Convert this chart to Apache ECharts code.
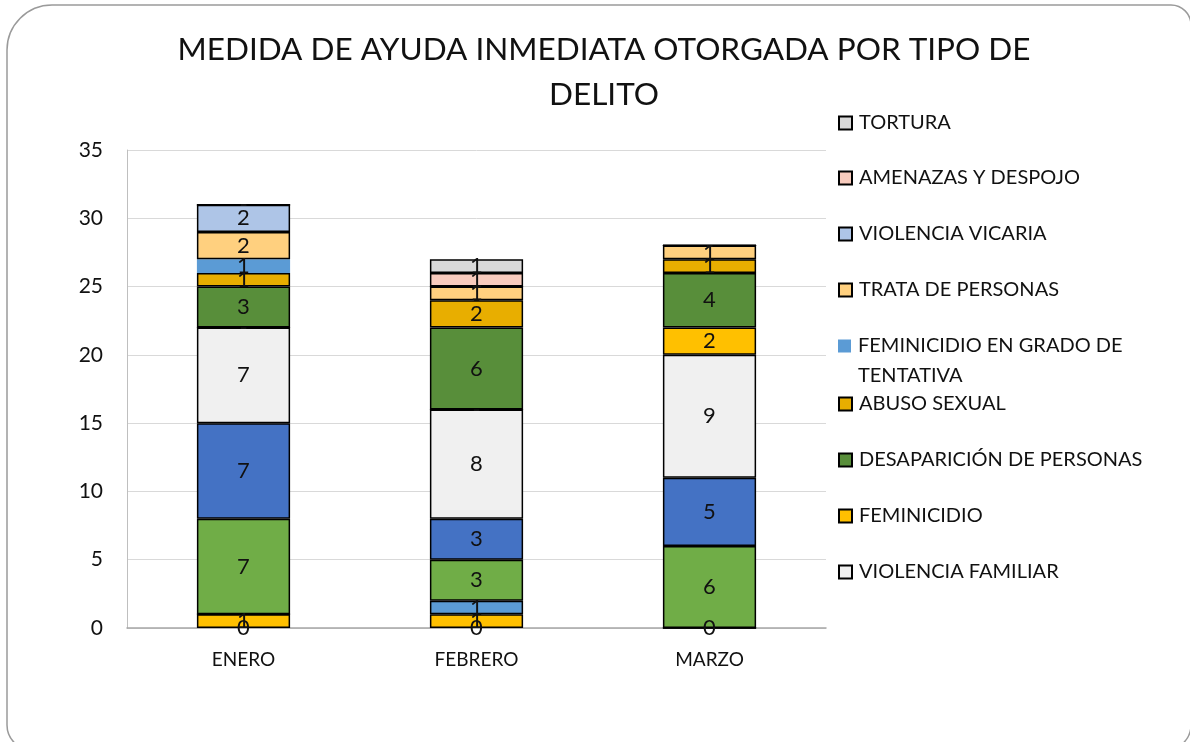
<!DOCTYPE html>
<html>
<head>
<meta charset="utf-8">
<title>Medida de ayuda inmediata</title>
<script src="https://cdn.jsdelivr.net/npm/echarts@6/dist/echarts.min.js"></script>
<style>
  html, body { margin: 0; padding: 0; background: #fff; }
  #chartContainer { width: 1190px; height: 742px; }
</style>
</head>
<body>
<div id="chartContainer"></div>
<script>
// meses (eje x)
const meses = ['ENERO', 'FEBRERO', 'MARZO'];
const yTicks = [0, 5, 10, 15, 20, 25, 30, 35];

// series ocultas en la leyenda (de abajo hacia arriba)
const serieBase = [0, 0, 0];
const serieAmarilla = [1, 1, 0];
const serieAzulClaro = [0, 1, 0];
const serieVerde = [7, 3, 6];
const serieAzul = [7, 3, 5];

// series visibles en la leyenda
const violenciaFamiliar = [7, 8, 9];
const feminicidio = [0, 0, 2];
const desaparicion = [3, 6, 4];
const abusoSexual = [1, 2, 1];
const feminicidioTentativa = [1, 0, 0];
const trataPersonas = [2, 1, 1];
const violenciaVicaria = [2, 0, 0];
const amenazas = [0, 1, 0];
const tortura = [0, 1, 0];

const FONT = 'Lato, "Open Sans", sans-serif';

// etiqueta: '-' para ceros en las series de arriba
function lbl(mode) {
  return {
    show: true,
    position: 'inside',
    fontFamily: FONT,
    fontSize: 22,
    color: '#111',
    formatter: function (p) {
      if (p.value === 0) {
        if (mode === 'zero') return '0';
        if (mode === 'hide') return '';
        return '-';
      }
      return p.value;
    }
  };
}

function barra(nombre, datos, color, modo, sinBorde) {
  return {
    name: nombre,
    type: 'bar',
    stack: 'total',
    barCategoryGap: '60%',
    data: datos,
    itemStyle: {
      color: color,
      borderColor: sinBorde ? color : '#000',
      borderWidth: sinBorde ? 0 : 1.5
    },
    label: lbl(modo),
    emphasis: { disabled: true }
  };
}

const series = [
  barra('SERIE BASE', serieBase, 'rgba(0,0,0,0)', 'zero', true),
  barra('SERIE AMARILLA', serieAmarilla, '#FFC000', 'hide'),
  barra('SERIE AZUL CLARO', serieAzulClaro, '#5B9BD5', 'hide'),
  barra('SERIE VERDE', serieVerde, '#70AD47', 'hide'),
  barra('SERIE AZUL', serieAzul, '#4472C4', 'hide'),
  barra('VIOLENCIA FAMILIAR', violenciaFamiliar, '#F0F0F0'),
  barra('FEMINICIDIO', feminicidio, '#FFC000'),
  barra('DESAPARICIÓN DE PERSONAS', desaparicion, '#588E3A'),
  barra('ABUSO SEXUAL', abusoSexual, '#E8AE00'),
  barra('FEMINICIDIO EN GRADO DE TENTATIVA', feminicidioTentativa, '#5B9BD5', 'dash', true),
  barra('TRATA DE PERSONAS', trataPersonas, '#FFD07F'),
  barra('VIOLENCIA VICARIA', violenciaVicaria, '#AEC5E7'),
  barra('AMENAZAS Y DESPOJO', amenazas, '#F8CBBD'),
  barra('TORTURA', tortura, '#D9D9D9')
];

// leyenda: un componente por entrada para fijar la posicion vertical
const leyendaNombres = ['TORTURA', 'AMENAZAS Y DESPOJO', 'VIOLENCIA VICARIA', 'TRATA DE PERSONAS',
  'FEMINICIDIO EN GRADO DE TENTATIVA', 'ABUSO SEXUAL', 'DESAPARICIÓN DE PERSONAS', 'FEMINICIDIO',
  'VIOLENCIA FAMILIAR'];
const leyendaY = [123, 178, 234, 290, 346, 404, 460, 516, 572];

const legend = leyendaNombres.map(function (n, i) {
  return {
    data: [{ name: n, icon: 'rect' }],
    left: 838,
    top: leyendaY[i] - 10,
    padding: 0,
    itemWidth: 13,
    itemHeight: 13,
    selectedMode: false,
    formatter: function (name) {
      return name === 'FEMINICIDIO EN GRADO DE TENTATIVA' ? 'FEMINICIDIO EN GRADO DE' : name;
    },
    textStyle: { fontFamily: FONT, fontSize: 20, color: '#111', lineHeight: 20, padding: [0, 0, 0, 2] }
  };
});

const option = {
  animation: false,
  title: {
    text: 'MEDIDA DE AYUDA INMEDIATA OTORGADA POR TIPO DE\nDELITO',
    left: 604,
    top: 27,
    textAlign: 'center',
    padding: 0,
    textStyle: { fontFamily: FONT, fontSize: 31.5, fontWeight: 'normal', color: '#111', lineHeight: 45 }
  },
  legend: legend,
  graphic: [
    {
      // marco redondeado de la diapositiva
      type: 'rect',
      z: -10,
      shape: { x: 7, y: 5, width: 1184, height: 745, r: [45, 20, 25, 25] },
      style: { fill: 'none', stroke: '#9A9A9A', lineWidth: 1.5 }
    },
    {
      type: 'text',
      left: 858,
      top: 366,
      style: { text: 'TENTATIVA', font: '20px ' + FONT, fill: '#111' }
    }
  ],
  grid: { left: 127, right: 1190 - 826, top: 150, bottom: 742 - 628 },
  xAxis: {
    type: 'category',
    data: meses,
    axisTick: { show: false },
    axisLine: { lineStyle: { color: '#A6A6A6', width: 1.5 } },
    axisLabel: { fontFamily: FONT, fontSize: 19, color: '#111', margin: 22 }
  },
  yAxis: {
    type: 'value',
    min: yTicks[0],
    max: yTicks[yTicks.length - 1],
    interval: 5,
    axisLine: { show: true, lineStyle: { color: '#BFBFBF' } },
    axisTick: { show: false },
    splitLine: { lineStyle: { color: '#D9D9D9' } },
    axisLabel: { fontFamily: FONT, fontSize: 21, color: '#111', margin: 24 }
  },
  series: series
};

const myChart = echarts.init(document.getElementById('chartContainer'));
myChart.setOption(option);
</script>
</body>
</html>
